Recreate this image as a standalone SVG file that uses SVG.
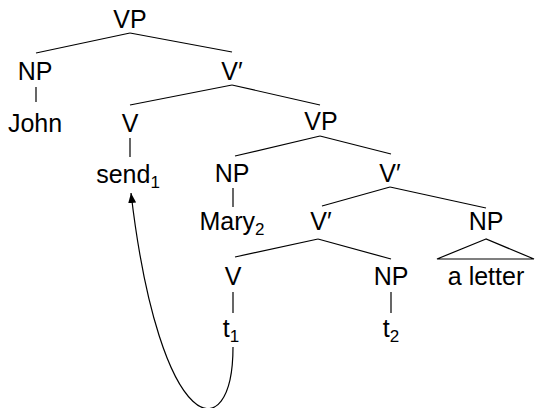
<svg xmlns="http://www.w3.org/2000/svg" width="535" height="408" viewBox="0 0 535 408">
<style>
text{font-family:"Liberation Sans",Arial,sans-serif;font-size:25px;fill:#000;text-anchor:middle}
.sub{font-size:17px}
.e{stroke:#000;stroke-width:1.2;fill:none}
</style>
<defs>
<marker id="ah" viewBox="0 0 10 8" refX="10" refY="4" markerWidth="10" markerHeight="8" orient="auto" markerUnits="userSpaceOnUse">
<path d="M0,0 L10,4 L0,8 z" fill="#000"/>
</marker>
</defs>
<g id="connectors">
<line class="e" x1="130" y1="33" x2="36" y2="53"/>
<line class="e" x1="130" y1="33" x2="232" y2="52"/>
<line class="e" x1="36" y1="87" x2="36" y2="102"/>
<line class="e" x1="232" y1="85" x2="130" y2="105"/>
<line class="e" x1="232" y1="85" x2="320" y2="105"/>
<line class="e" x1="130" y1="138" x2="130" y2="157"/>
<line class="e" x1="320" y1="136" x2="235" y2="156"/>
<line class="e" x1="320" y1="136" x2="391" y2="154"/>
<line class="e" x1="233" y1="188" x2="233" y2="207"/>
<line class="e" x1="390" y1="187" x2="322" y2="206"/>
<line class="e" x1="390" y1="187" x2="486" y2="208"/>
<line class="e" x1="318" y1="239" x2="235" y2="257"/>
<line class="e" x1="318" y1="239" x2="391" y2="259"/>
<polygon class="e" points="486,239 437,259 534,259"/>
<line class="e" x1="233" y1="292" x2="233" y2="313"/>
<line class="e" x1="391" y1="292" x2="391" y2="313"/>
<path class="e" d="M233,347 C233,450 160,440 131,193" marker-end="url(#ah)"/>
</g>
<g id="n-vp1"><text x="130" y="28">VP</text></g>
<g id="n-np1"><text x="35" y="80">NP</text></g>
<g id="n-vbar1"><text x="232" y="80">V′</text></g>
<g id="n-john"><text x="35" y="132">John</text></g>
<g id="n-v1"><text x="130" y="132">V</text></g>
<g id="n-vp2"><text x="321" y="130">VP</text></g>
<g id="n-send"><text x="128" y="183">send<tspan class="sub" dy="5">1</tspan></text></g>
<g id="n-np2"><text x="232" y="182">NP</text></g>
<g id="n-vbar2"><text x="390" y="182">V′</text></g>
<g id="n-mary"><text x="232" y="230">Mary<tspan class="sub" dy="5">2</tspan></text></g>
<g id="n-vbar3"><text x="321" y="230">V′</text></g>
<g id="n-np3"><text x="486" y="230">NP</text></g>
<g id="n-v2"><text x="233" y="285">V</text></g>
<g id="n-np4"><text x="391" y="285">NP</text></g>
<g id="n-aletter"><text x="486" y="285">a letter</text></g>
<g id="n-t1"><text x="231" y="337">t<tspan class="sub" dy="5">1</tspan></text></g>
<g id="n-t2"><text x="391" y="337">t<tspan class="sub" dy="5">2</tspan></text></g>
</svg>
